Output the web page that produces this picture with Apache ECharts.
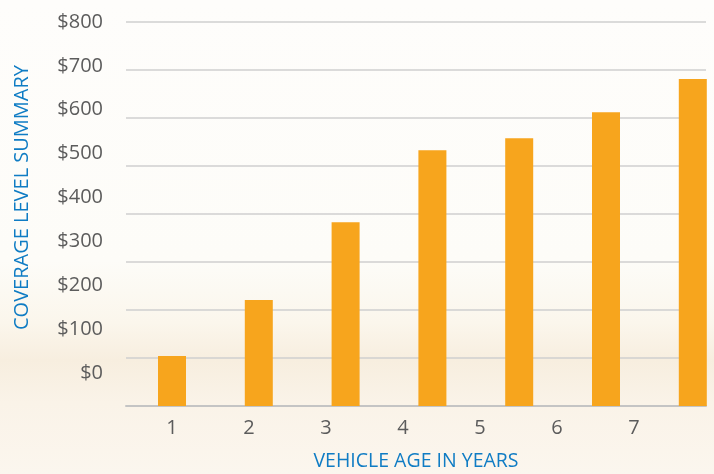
<!DOCTYPE html>
<html><head><meta charset="utf-8">
<script src="https://cdn.jsdelivr.net/npm/echarts@6/dist/echarts.min.js"></script>
<style>html,body{margin:0;padding:0;}#c{width:714px;height:474px;}</style>
</head><body><div id="c"></div>
<script>
const categories = ['1', '2', '3', '4', '5', '6', '7'];
const coverage = [104, 221, 383, 533, 558, 612, 681];
const yMin = 0, yMax = 800, yStep = 100;
const yTitle = 'COVERAGE LEVEL SUMMARY';
const xTitle = 'VEHICLE AGE IN YEARS';

const FONT = 'Open Sans';
const chart = echarts.init(document.getElementById('c'), null, {renderer: 'canvas'});
chart.setOption({
  animation: false,
  graphic: [{
    type: 'rect', z: -100, silent: true,
    shape: {x: 0, y: 0, width: 714, height: 474},
    style: {fill: new echarts.graphic.LinearGradient(0, 0, 0, 1, [
      {offset: 0, color: '#fefdfb'},
      {offset: 0.55, color: '#fdfcf8'},
      {offset: 0.68, color: '#fbf6ec'},
      {offset: 0.76, color: '#f7eedf'},
      {offset: 0.85, color: '#faf3e8'},
      {offset: 1, color: '#fbf6ee'}
    ])}
  }],
  grid: [
    {left: 126, right: 8, top: 22, bottom: 68, outerBoundsMode: 'none'},
    {left: 128.6, width: 607.6, top: 22, bottom: 68, outerBoundsMode: 'none'},
    {left: 133.5, width: 539, top: 22, bottom: 68, outerBoundsMode: 'none'},
    {left: 111, width: 10, top: 22, bottom: 101, outerBoundsMode: 'none'}
  ],
  xAxis: [
    {gridIndex: 0, type: 'category', data: categories, axisTick: {show: false},
     axisLabel: {show: false}, axisLine: {lineStyle: {color: '#c4c4c4', width: 2}},
     name: xTitle, nameLocation: 'middle', nameGap: 45,
     nameTextStyle: {color: '#0f7cc4', fontSize: 19.5, fontFamily: FONT}},
    {gridIndex: 1, type: 'category', data: categories, show: false},
    {gridIndex: 2, type: 'category', data: categories, axisTick: {show: false},
     axisLine: {show: false},
     axisLabel: {color: '#5c5c5c', fontSize: 20, fontFamily: FONT, margin: 12}},
    {gridIndex: 3, type: 'category', data: [''], show: false}
  ],
  yAxis: [
    {gridIndex: 0, type: 'value', min: yMin, max: yMax, interval: yStep,
     axisLabel: {show: false}, axisLine: {show: false}, axisTick: {show: false},
     splitLine: {lineStyle: {color: '#cfcfcf', width: 1.5}}},
    {gridIndex: 1, type: 'value', min: yMin, max: yMax, interval: yStep, show: false},
    {gridIndex: 2, type: 'value', min: yMin, max: yMax, interval: yStep, show: false},
    {gridIndex: 3, type: 'value', min: yMin, max: yMax, interval: yStep,
     axisLine: {show: false}, axisTick: {show: false}, splitLine: {show: false},
     axisLabel: {color: '#5c5c5c', fontSize: 20, fontFamily: FONT, margin: 8,
       formatter: v => '$' + v},
     name: yTitle, nameLocation: 'middle', nameGap: 79,
     nameTextStyle: {color: '#0f7cc4', fontSize: 20, fontFamily: FONT}}
  ],
  series: [{
    type: 'bar', xAxisIndex: 1, yAxisIndex: 1, data: coverage,
    barWidth: 28, itemStyle: {color: '#f7a51d'}
  }]
});
</script></body></html>
